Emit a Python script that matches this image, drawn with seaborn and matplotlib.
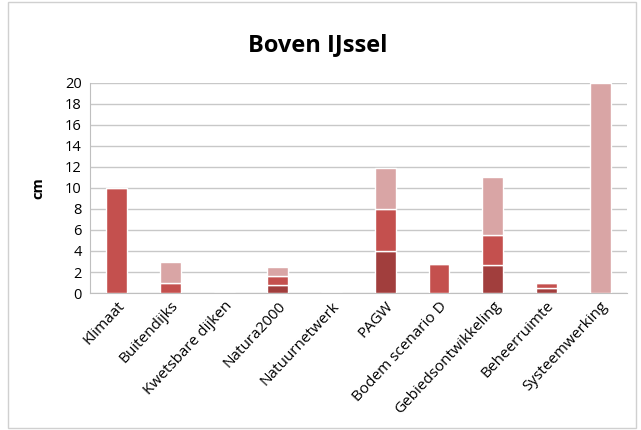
import matplotlib
matplotlib.use("Agg")
import matplotlib.pyplot as plt
import numpy as np
import pandas as pd
import seaborn as sns
from matplotlib.patches import Rectangle

CATEGORIES = ["Klimaat", "Buitendijks", "Kwetsbare dijken", "Natura2000", "Natuurnetwerk",
              "PAGW", "Bodem scenario D", "Gebiedsontwikkeling", "Beheerruimte", "Systeemwerking"]
DARK = [0, 0, 0, 0.8, 0, 4.0, 0, 2.7, 0.45, 0]
MID = [10.0, 1.0, 0, 0.8, 0, 4.0, 2.8, 2.8, 0.5, 0]
LIGHT = [0, 2.0, 0, 0.9, 0, 3.9, 0, 5.5, 0, 20.0]
TITLE = "Boven IJssel"
YLABEL = "cm"

sns.set_style("white")
plt.rcParams["font.family"] = ["Open Sans", "DejaVu Sans"]
plt.rcParams["text.color"] = "black"
plt.rcParams["axes.labelcolor"] = "black"
plt.rcParams["xtick.labelcolor"] = "black"
plt.rcParams["ytick.labelcolor"] = "black"

df = pd.DataFrame({"cat": CATEGORIES, "dark": DARK, "mid": MID, "light": LIGHT})
df["mid_bottom"] = df["dark"]
df["light_bottom"] = df["dark"] + df["mid"]

fig = plt.figure(figsize=(6.41, 4.30), dpi=100)
ax = fig.add_axes([0.1404, 0.3186, 0.8376, 0.4884])

colors = {"dark": "#a13e3d", "mid": "#c4504e", "light": "#d9a5a5"}
for seg, bottom in [("dark", None), ("mid", "mid_bottom"), ("light", "light_bottom")]:
    kw = {}
    if bottom is not None:
        kw["bottom"] = df[bottom].values
    sns.barplot(data=df, x="cat", y=seg, color=colors[seg], width=0.39,
                edgecolor="white", linewidth=1.0, saturation=1, ax=ax, zorder=3, **kw)

ax.set_ylim(0, 20)
ax.set_xlim(-0.5, len(CATEGORIES) - 0.5)
ax.set_yticks(np.arange(0, 21, 2))
ax.yaxis.grid(True, color="#c8c8c8", linewidth=1.0, zorder=0)
ax.set_axisbelow(True)
for s in ["top", "right"]:
    ax.spines[s].set_visible(False)
ax.spines["left"].set_color("#bfbfbf")
ax.spines["bottom"].set_color("#bfbfbf")
ax.tick_params(axis="y", length=0, labelsize=10.5, pad=6)
ax.set_xticks(np.arange(len(CATEGORIES)))
ax.set_xticklabels(CATEGORIES, rotation=47, ha="right", rotation_mode="anchor", fontsize=11)
ax.tick_params(axis="x", length=0, pad=4)
# category boundary ticks
ax.set_xticks(np.arange(-0.5, len(CATEGORIES)), minor=True)
ax.tick_params(axis="x", which="minor", length=5, color="#bfbfbf", direction="out")
ax.set_xlabel("")
ax.set_ylabel(YLABEL, fontsize=10.5, fontweight="bold", labelpad=14)

fig.text(0.496, 0.895, TITLE, ha="center", va="center", fontsize=17, fontweight="bold")
fig.patches.append(Rectangle((0.012, 0.005), 0.98, 0.99, transform=fig.transFigure,
                             fill=False, edgecolor="#d0d0d0", linewidth=1.0))

fig.savefig("out.png", dpi=100)
